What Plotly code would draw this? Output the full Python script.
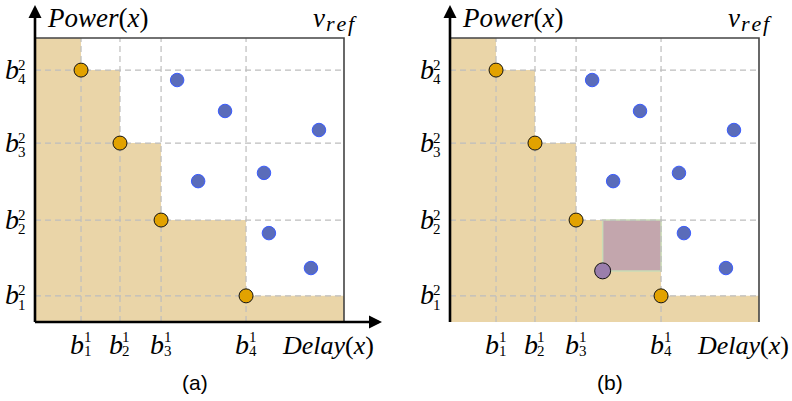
import plotly.graph_objects as go

# ---------------- data ----------------
panel_names = ["(a)", "(b)"]
b1_vals = [1.49, 2.75, 4.08, 6.83]        # Delay breakpoints b^1_i
b2_vals = [0.92, 3.59, 6.30, 8.87]        # Power breakpoints b^2_i
b1_idx = ["1", "2", "3", "4"]
b2_idx = ["1", "2", "3", "4"]
front_delay = [1.49, 2.75, 4.08, 6.83]    # Pareto front points
front_power = [8.87, 6.30, 3.59, 0.92]
other_delay = [4.60, 6.15, 9.19, 5.28, 7.41, 7.57, 8.93]
other_power = [8.52, 7.43, 6.76, 4.96, 5.25, 3.13, 1.90]
new_delay = [4.94]                        # new point (panel b)
new_power = [1.80]
v_ref = [10.0, 10.0]                      # reference point (delay, power)

# ---------------- layout constants ----------------
W, H = 792, 401
PX_X, PX_Y = 30.9, 28.4
ORIG = [35, 450]
BOTTOM = 322
X_RIGHT = [395, 792]
TAN = "#EAD5A8"
GRID = "#BDBDBD"
SERIF = "Liberation Serif"

fig = go.Figure()
annotations = []

for p in range(2):
    xa = "x" if p == 0 else "x2"
    ya = "y" if p == 0 else "y2"
    vx, vy = v_ref
    # dominated (staircase) region
    sx = [0, 0, b1_vals[0]]
    sy = [0, vy, vy]
    for i in range(4):
        sx += [b1_vals[i], b1_vals[i + 1] if i < 3 else vx]
        sy += [b2_vals[3 - i], b2_vals[3 - i]]
    sx += [vx, 0]
    sy += [0, 0]
    fig.add_trace(go.Scatter(x=sx, y=sy, xaxis=xa, yaxis=ya, mode="lines",
                             fill="toself", fillcolor=TAN, line=dict(width=0),
                             hoverinfo="skip", showlegend=False))
    if p == 1:
        rx = [new_delay[0], b1_vals[3], b1_vals[3], new_delay[0], new_delay[0]]
        ry = [new_power[0], new_power[0], b2_vals[1], b2_vals[1], new_power[0]]
        fig.add_trace(go.Scatter(x=rx, y=ry, xaxis=xa, yaxis=ya, mode="lines",
                                 fill="toself", fillcolor="#C3A6AD",
                                 line=dict(width=1.5, color="#C9DBB6"),
                                 hoverinfo="skip", showlegend=False))
    # grid lines
    gx, gy = [], []
    for b in b1_vals:
        gx += [b, b, None]
        gy += [0, vy, None]
    for b in b2_vals:
        gx += [0, vx, None]
        gy += [b, b, None]
    fig.add_trace(go.Scatter(x=gx, y=gy, xaxis=xa, yaxis=ya, mode="lines",
                             line=dict(color=GRID, width=1.2, dash="6px,4px"),
                             hoverinfo="skip", showlegend=False))
    # box top/right
    fig.add_trace(go.Scatter(x=[0, vx, vx], y=[vy, vy, 0], xaxis=xa, yaxis=ya,
                             mode="lines", line=dict(color="#444444", width=1.6),
                             hoverinfo="skip", showlegend=False))
    # points
    fig.add_trace(go.Scatter(x=other_delay, y=other_power, xaxis=xa, yaxis=ya,
                             mode="markers",
                             marker=dict(size=13.5, color="#5A6CBA",
                                         line=dict(color="#3A5CFF", width=1)),
                             hoverinfo="skip", showlegend=False))
    fig.add_trace(go.Scatter(x=front_delay, y=front_power, xaxis=xa, yaxis=ya,
                             mode="markers",
                             marker=dict(size=14, color="#E2A200",
                                         line=dict(color="#111111", width=1)),
                             hoverinfo="skip", showlegend=False))
    if p == 1:
        fig.add_trace(go.Scatter(x=new_delay, y=new_power, xaxis=xa, yaxis=ya,
                                 mode="markers",
                                 marker=dict(size=16, color="#9A7EAC",
                                             line=dict(color="#111111", width=1)),
                                 hoverinfo="skip", showlegend=False))

    ytip = (BOTTOM - 5) / PX_Y
    xtip = (382 - 35) / PX_X
    # axis arrows
    annotations.append(dict(xref=xa, yref=ya, axref=xa, ayref=ya, x=0, y=ytip,
                            ax=0, ay=-0.05, text="", showarrow=True, arrowhead=2,
                            arrowsize=1, arrowwidth=2.6, arrowcolor="black", standoff=0))
    annotations.append(dict(xref=xa, yref=ya, axref=xa, ayref=ya, x=xtip, y=0,
                            ax=-0.05, ay=0, text="", showarrow=True, arrowhead=2,
                            arrowsize=1, arrowwidth=2.6, arrowcolor="black", standoff=0))
    # tick labels x
    for b, idx in zip(b1_vals, b1_idx):
        annotations.append(dict(xref=xa, yref=ya, x=b, y=0, xshift=-4, yshift=-22,
                                text="<i>b</i>", showarrow=False,
                                font=dict(family=SERIF, size=28, color="black")))
        annotations.append(dict(xref=xa, yref=ya, x=b, y=0, xshift=6.5, yshift=-14.5,
                                text="1", showarrow=False,
                                font=dict(family=SERIF, size=15, color="black")))
        annotations.append(dict(xref=xa, yref=ya, x=b, y=0, xshift=6.5, yshift=-28.5,
                                text=idx, showarrow=False,
                                font=dict(family=SERIF, size=15, color="black")))
    # tick labels y
    for b, idx in zip(b2_vals, b2_idx):
        annotations.append(dict(xref=xa, yref=ya, x=0, y=b, xshift=-23, yshift=1,
                                text="<i>b</i>", showarrow=False,
                                font=dict(family=SERIF, size=28, color="black")))
        annotations.append(dict(xref=xa, yref=ya, x=0, y=b, xshift=-13, yshift=5.5,
                                text="2", showarrow=False,
                                font=dict(family=SERIF, size=15, color="black")))
        annotations.append(dict(xref=xa, yref=ya, x=0, y=b, xshift=-13, yshift=-9,
                                text=idx, showarrow=False,
                                font=dict(family=SERIF, size=15, color="black")))
    # axis titles
    annotations.append(dict(xref=xa, yref=ya, x=0, y=0, xshift=62, yshift=BOTTOM - 18,
                            text="<i>Power</i>(<i>x</i>)", showarrow=False,
                            font=dict(family=SERIF, size=27, color="black")))
    annotations.append(dict(xref=xa, yref=ya, x=0, y=0, xshift=293, yshift=-23,
                            text="<i>Delay</i>(<i>x</i>)", showarrow=False,
                            font=dict(family=SERIF, size=26, color="black")))
    annotations.append(dict(xref=xa, yref=ya, x=vx, y=vy, xshift=-25.5, yshift=20.4,
                            text="<i>v</i>", showarrow=False,
                            font=dict(family=SERIF, size=27, color="black")))
    annotations.append(dict(xref=xa, yref=ya, x=vx, y=vy, xshift=-3, yshift=14.6,
                            text="<i>r\u200ae\u200af</i>", showarrow=False,
                            font=dict(family=SERIF, size=22, color="black")))
    # caption
    annotations.append(dict(xref="paper", yref="paper", xanchor="center", yanchor="middle",
                            x=(194.5 if p == 0 else 610) / W, y=1 - 382 / H,
                            text=panel_names[p], showarrow=False,
                            font=dict(family="Liberation Sans", size=21, color="black")))

ax_common = dict(visible=False, showgrid=False, zeroline=False, fixedrange=True)
fig.update_layout(
    width=W, height=H, margin=dict(l=0, r=0, t=0, b=0),
    paper_bgcolor="white", plot_bgcolor="rgba(0,0,0,0)", showlegend=False,
    xaxis=dict(domain=[ORIG[0] / W, X_RIGHT[0] / W], range=[0, (X_RIGHT[0] - ORIG[0]) / PX_X], **ax_common),
    xaxis2=dict(domain=[ORIG[1] / W, X_RIGHT[1] / W], range=[0, (X_RIGHT[1] - ORIG[1]) / PX_X], **ax_common),
    yaxis=dict(domain=[1 - BOTTOM / H, 1], range=[0, BOTTOM / PX_Y], anchor="x", **ax_common),
    yaxis2=dict(domain=[1 - BOTTOM / H, 1], range=[0, BOTTOM / PX_Y], anchor="x2", **ax_common),
    annotations=annotations,
)
fig.write_html("out.html", config={"displayModeBar": False},
               post_script="document.body.style.margin='0';document.body.style.overflow='hidden';")
